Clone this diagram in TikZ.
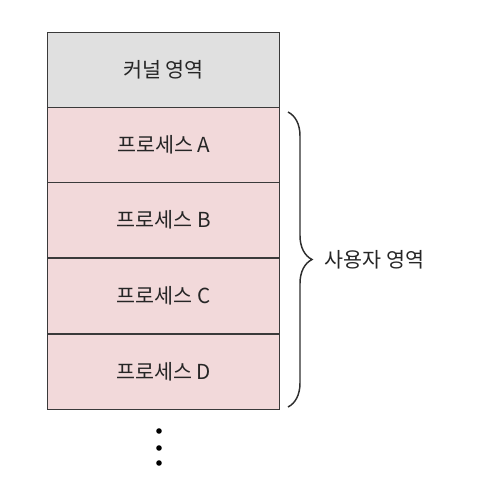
\documentclass[tikz,border=0pt]{standalone}
\usepackage{fontspec}
\setmainfont{Noto Sans CJK KR}
\usetikzlibrary{decorations.pathreplacing}
\definecolor{kgray}{HTML}{E0E0E0}
\definecolor{ppink}{HTML}{F2D9DA}
\definecolor{lcol}{HTML}{3A3A3A}
\begin{document}
\begin{tikzpicture}[x=0.75pt,y=-0.75pt,
  txt/.style={font=\fontsize{15.5}{18}\selectfont,text=black!85},
  cell/.style={draw=lcol,line width=1pt,minimum width=174pt,minimum height=56.25pt,inner sep=0pt,anchor=north west,txt},
  kcell/.style={cell,fill=kgray},
  pcell/.style={cell,fill=ppink},
  dotn/.style={circle,fill=black,inner sep=0pt,minimum size=4.2pt}]
\useasboundingbox (0,0) rectangle (480,494);
\node[kcell] (k) at (47,32) {커널 영역};
\node[pcell] (a) at (47,107) {프로세스 A};
\node[pcell] (b) at (47,182) {프로세스 B};
\node[pcell] (c) at (47,258) {프로세스 C};
\node[pcell] (d) at (47,333.5) {프로세스 D};
\coordinate (bt) at (288,112);
\coordinate (bb) at (288,407);
\draw[line width=1.1pt,lcol!80!black,decorate,decoration={brace,amplitude=18pt}] (bt) -- (bb) node[midway,right=27pt,inner sep=0pt,txt] (u) {사용자 영역};
\node[dotn] (d1) at (159,431) {};
\node[dotn] (d2) at (159,448) {};
\node[dotn] (d3) at (159,463) {};
\end{tikzpicture}
\end{document}
